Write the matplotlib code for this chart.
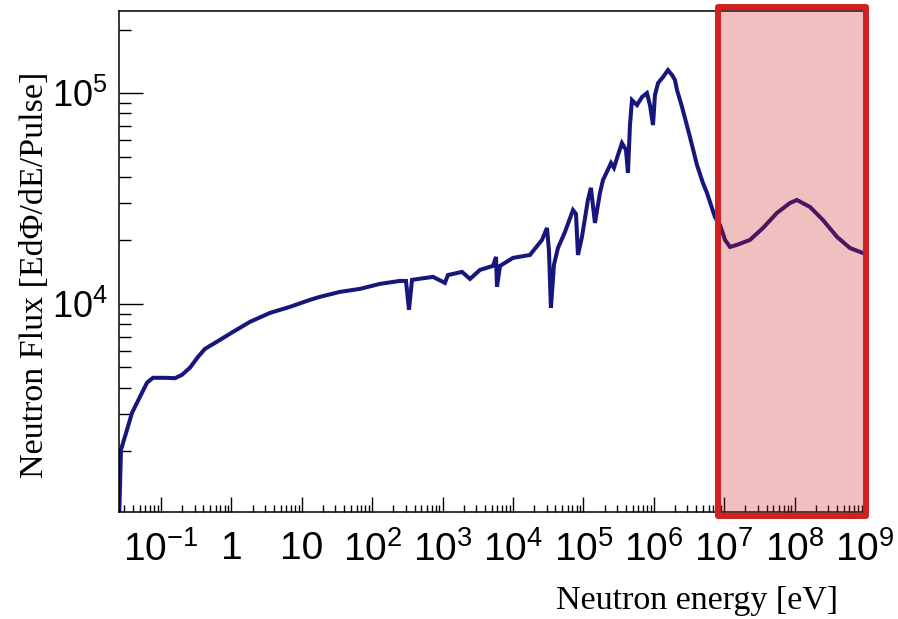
import matplotlib.pyplot as plt
import matplotlib.transforms as mtransforms
from matplotlib.patches import Rectangle
from matplotlib.ticker import FixedLocator, FixedFormatter, LogLocator, NullFormatter

plt.rcParams['font.family'] = 'Liberation Sans'
plt.rcParams['mathtext.fontset'] = 'custom'
plt.rcParams['mathtext.rm'] = 'Liberation Sans'
plt.rcParams['mathtext.it'] = 'Liberation Sans:italic'
plt.rcParams['mathtext.bf'] = 'Liberation Sans:bold'

# neutron spectrum, energy in eV, flux in E dPhi/dE per pulse
energy = [0.0255, 0.0270, 0.0329, 0.0387, 0.0537, 0.0633, 0.0769, 0.114, 0.158,
          0.199, 0.258, 0.336, 0.422, 0.689, 1.05, 1.84, 3.53, 6.79, 13.1, 18.1,
          34.9, 67.1, 129, 248, 302, 333, 368, 731, 1080, 1190, 1890, 2450, 3400,
          5200, 5740, 5930, 6540, 1.0e4, 1.74e4, 2.58e4, 3.04e4, 3.24e4, 3.46e4,
          3.82e4, 4.35e4, 5.48e4, 7.12e4, 7.85e4, 8.38e4, 9.55e4, 1.16e5, 1.28e5,
          1.46e5, 1.72e5, 1.90e5, 2.16e5, 2.47e5, 2.72e5, 3.10e5, 3.53e5, 4.03e5,
          4.30e5, 4.59e5, 4.90e5, 5.77e5, 6.79e5, 8.00e5, 8.83e5, 9.75e5, 1.04e6,
          1.15e6, 1.35e6, 1.59e6, 1.82e6, 2.0e6, 2.14e6, 2.52e6, 3.27e6, 4.11e6,
          5.0e6, 5.70e6, 7.40e6, 8.71e6, 1.03e7, 1.21e7, 1.52e7, 2.32e7, 3.56e7,
          5.62e7, 8.61e7, 1.08e8, 1.66e8, 2.53e8, 4.0e8, 6.12e8, 9.06e8]
flux = [1000, 2030, 2530, 3040, 3790, 4230, 4460, 4460, 4440,
        4610, 4980, 5610, 6120, 6750, 7360, 8220, 9060, 9680, 10450, 10800,
        11400, 11780, 12440, 12850, 12850, 9370, 13000, 13430, 12580, 13700, 14180, 13130, 14490,
        15140, 16700, 12050, 15140, 16520, 17060, 20090, 22910, 18030, 9570,
        15310, 18410, 21930, 27860, 26710, 17060, 20800, 31100, 35500,
        24200, 33600, 38700, 42300, 46600, 44200, 50800, 57900, 53700,
        41800, 70500, 92600, 87700, 95700, 100000, 87700, 70500, 98000,
        111500, 119000, 128500, 121700, 115300, 103300, 85900, 61800, 45600,
        37400, 33600, 25800, 23700, 20100, 18620, 19050, 20100, 22900,
        27000, 30100, 31100, 28800, 25000, 20800, 18400, 17500]

x_ticks = [1e-1, 1, 10, 1e2, 1e3, 1e4, 1e5, 1e6, 1e7, 1e8, 1e9]
x_labels = [r'$10^{-1}$', '1', '10', r'$10^{2}$', r'$10^{3}$', r'$10^{4}$',
            r'$10^{5}$', r'$10^{6}$', r'$10^{7}$', r'$10^{8}$', r'$10^{9}$']
y_ticks = [1e4, 1e5]
y_labels = [r'$10^{4}$', r'$10^{5}$']

# high energy region highlighted on the plot
box_energy = (8.2e6, 1.03e9)

fig = plt.figure(figsize=(8.98, 6.19), dpi=100)
ax = fig.add_axes([0.1325, 0.1729, 0.8307, 0.8093])

ax.plot(energy, flux, color='#16167c', lw=2.9, solid_joinstyle='miter')
ax.set_xscale('log')
ax.set_yscale('log')
ax.set_xlim(0.0253, 1e9)
ax.set_ylim(1.03e3, 2.45e5)

ax.xaxis.set_major_locator(FixedLocator(x_ticks))
ax.xaxis.set_major_formatter(FixedFormatter(x_labels))
ax.xaxis.set_minor_locator(LogLocator(base=10, subs=range(2, 10), numticks=40))
ax.xaxis.set_minor_formatter(NullFormatter())
ax.yaxis.set_major_locator(FixedLocator(y_ticks))
ax.yaxis.set_major_formatter(FixedFormatter(y_labels))
ax.yaxis.set_minor_locator(LogLocator(base=10, subs=range(2, 10), numticks=40))
ax.yaxis.set_minor_formatter(NullFormatter())

ax.tick_params(axis='x', which='major', direction='in', length=11, width=1,
               labelsize=28, pad=14, top=False)
ax.tick_params(axis='x', which='minor', direction='in', length=5, width=1, top=False)
ax.tick_params(axis='y', which='major', direction='in', length=17, width=1,
               labelsize=26, pad=8, right=False)
ax.tick_params(axis='y', which='minor', direction='in', length=8.5, width=1, right=False)
for s in ax.spines.values():
    s.set_linewidth(1.1)

trans = mtransforms.blended_transform_factory(ax.transData, ax.transAxes)
box = Rectangle((box_energy[0], -0.008), box_energy[1] - box_energy[0], 1.016,
                transform=trans, facecolor=(0.8, 0.1, 0.1, 0.28),
                edgecolor='#cf2121', lw=4.3, joinstyle='round',
                clip_on=False, zorder=3)
ax.add_patch(box)

fig.text(838 / 898, 1 - 601 / 619, 'Neutron energy [eV]', ha='right', va='center',
         family='Liberation Serif', size=24.5)
fig.text(35 / 898, 1 - 275 / 619, 'Neutron Flux [EdΦ/dE/Pulse]', rotation=90,
         ha='center', va='center', family='Liberation Serif', size=24.5)

fig.savefig('out.png', dpi=100)
